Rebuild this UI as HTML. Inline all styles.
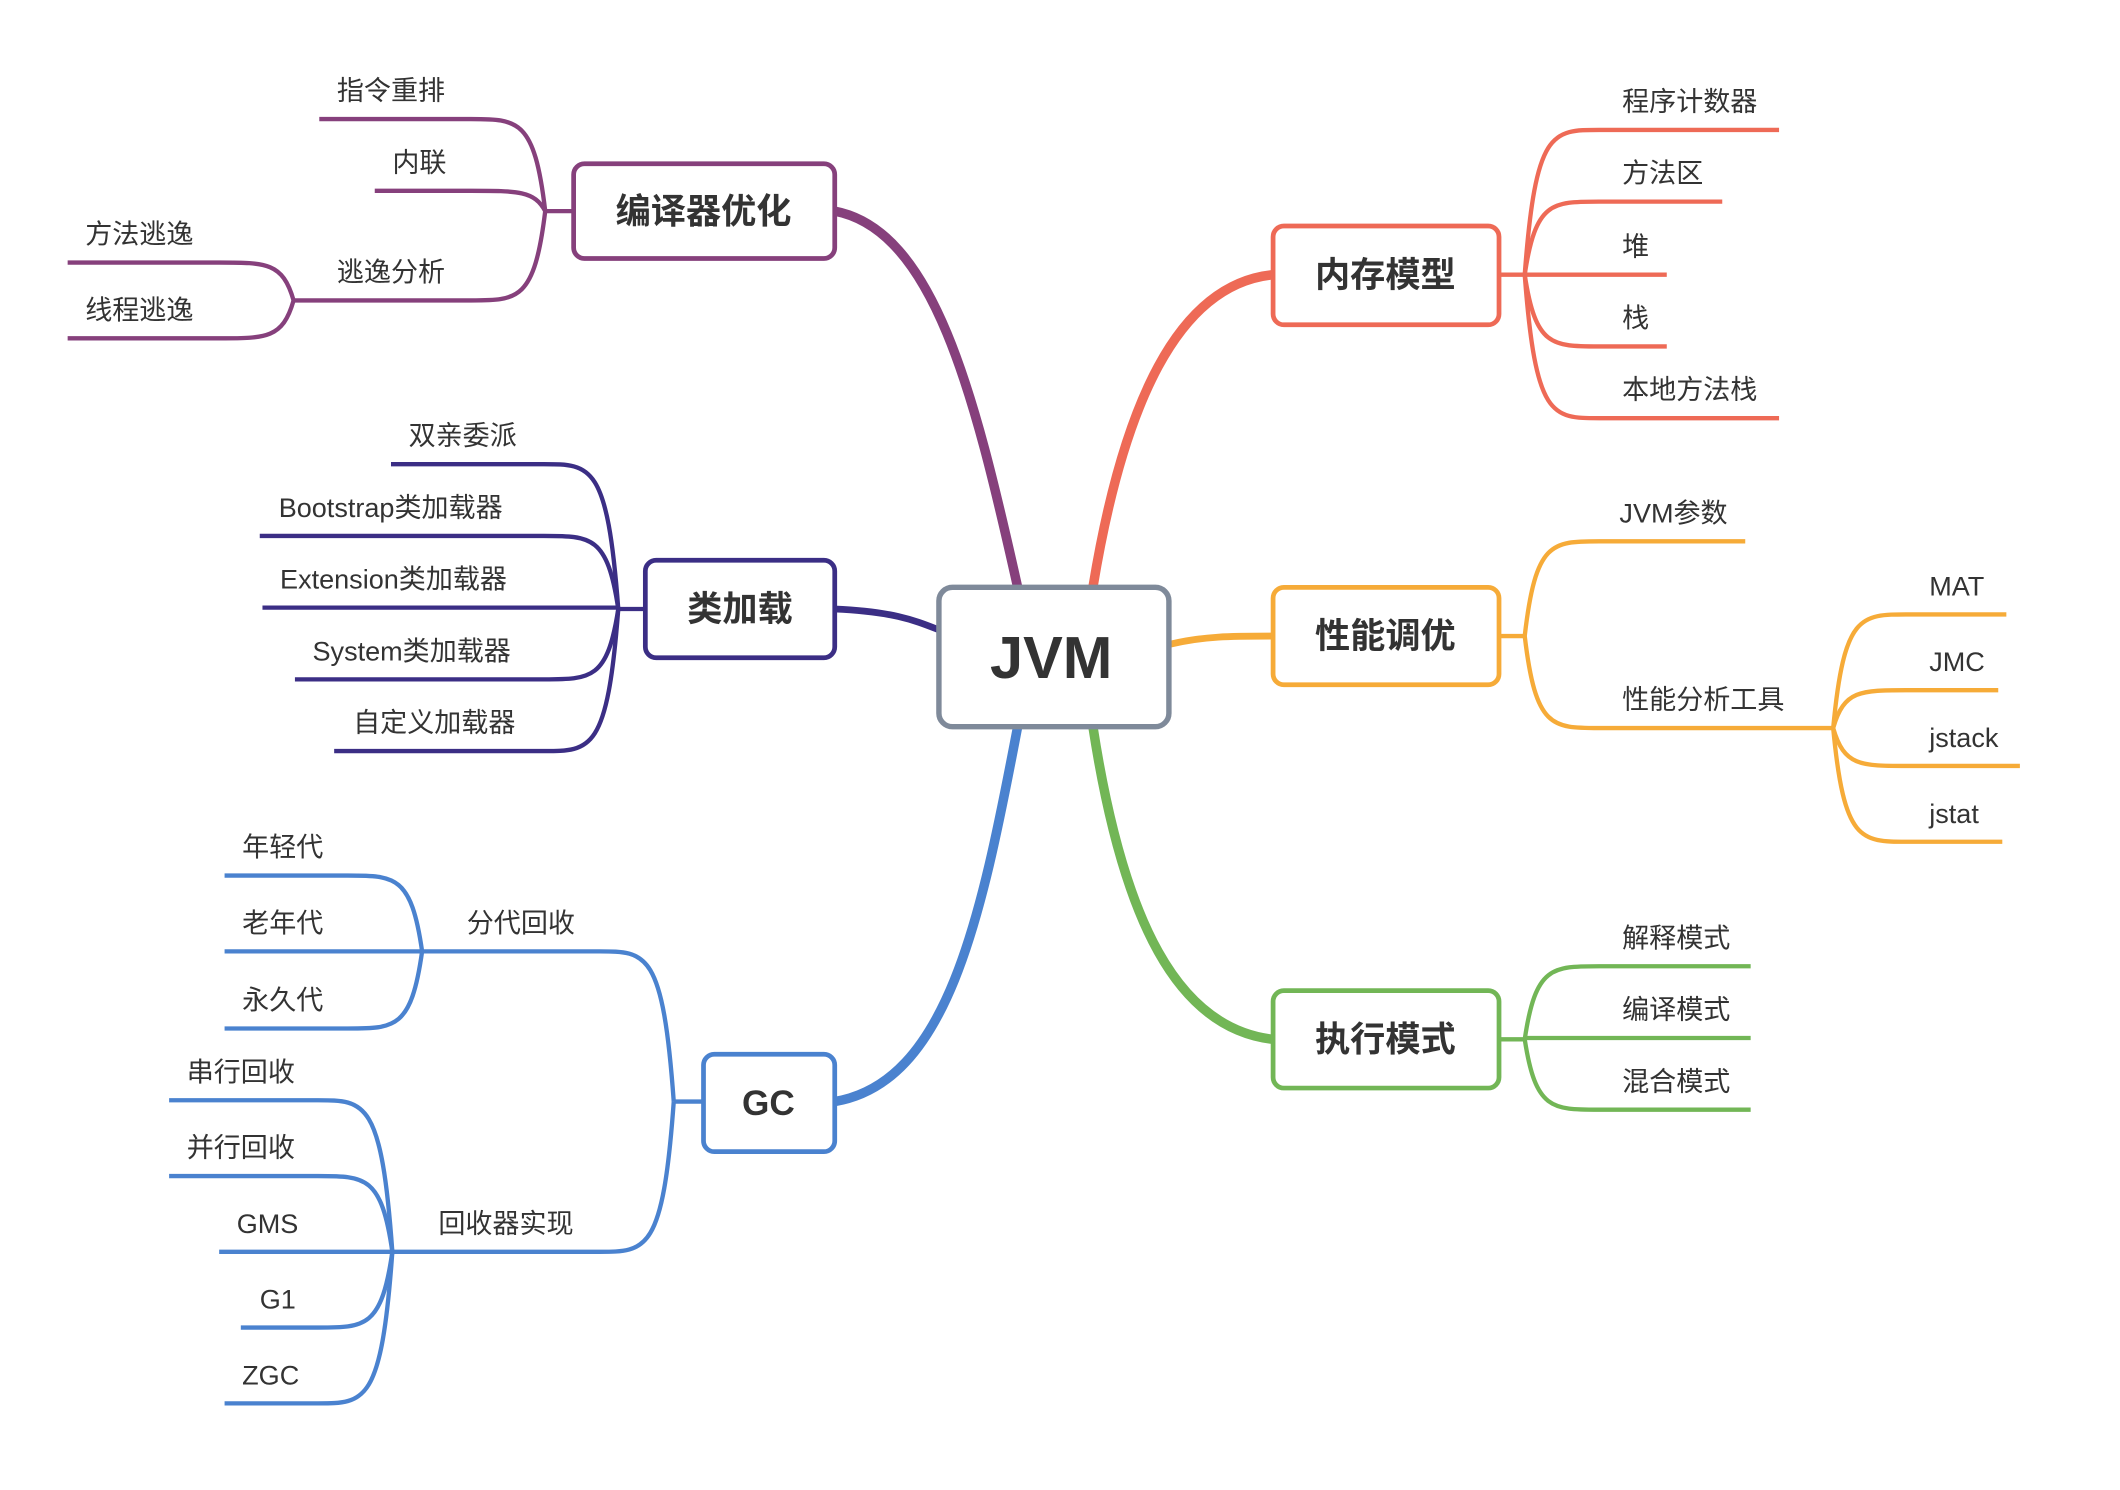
<!DOCTYPE html>
<html><head><meta charset="utf-8"><style>
html,body{margin:0;padding:0;background:#fff}
svg{display:block}
text{font-family:"Liberation Sans","Noto Sans CJK SC",sans-serif;fill:#333}
.l{font-size:20px}
.t{font-size:26px;font-weight:bold;text-anchor:middle}
</style></head><body>
<svg width="2120" height="1490" viewBox="0 0 1567 1101" preserveAspectRatio="none" xmlns="http://www.w3.org/2000/svg">
<g fill="none" stroke-linecap="butt">
<!-- main branches -->
<path d="M617,156 C690,170 720,290 752,433" stroke="#86407c" stroke-width="7"/>
<path d="M941,203 C870,210 830,300 808,433" stroke="#ee6a56" stroke-width="7"/>
<path d="M617,814 C700,800 725,680 752,538" stroke="#4a82cf" stroke-width="7"/>
<path d="M941,768 C870,760 830,680 808,538" stroke="#72b656" stroke-width="7"/>
<path d="M617,450 C660,452 675,458 693,465" stroke="#3b2e85" stroke-width="5"/>
<path d="M865,476 C890,470 910,470 941,470" stroke="#f6ab38" stroke-width="5"/>

<!-- compile -->
<g stroke="#86407c" stroke-width="3.2">
<path d="M403,156 L424,156"/>
<path d="M403,156 C395,88 383,88 348,88 L236,88"/>
<path d="M403,156 C395,141 383,141 348,141 L277,141"/>
<path d="M403,156 C395,222 383,222 348,222 L217,222"/>
<path d="M217,222 C209,194 197,194 162,194 L50,194"/>
<path d="M217,222 C209,250 197,250 162,250 L50,250"/>
</g>
<!-- class -->
<g stroke="#3b2e85" stroke-width="3.2">
<path d="M457,450 L477,450"/>
<path d="M457,450 C449,343 437,343 402,343 L289,343"/>
<path d="M457,450 C449,396 437,396 402,396 L192,396"/>
<path d="M457,449 L194,449"/>
<path d="M457,450 C449,502 437,502 402,502 L218,502"/>
<path d="M457,450 C449,555 437,555 402,555 L247,555"/>
</g>
<!-- GC -->
<g stroke="#4a82cf" stroke-width="3.2">
<path d="M498,814 L520,814"/>
<path d="M498,814 C490,703 478,703 443,703 L312,703"/>
<path d="M498,814 C490,925 478,925 443,925 L290,925"/>
<path d="M312,703 C304,647 292,647 257,647 L166,647"/>
<path d="M312,703 L166,703"/>
<path d="M312,703 C304,760 292,760 257,760 L166,760"/>
<path d="M290,925 C282,813 270,813 235,813 L125,813"/>
<path d="M290,925 C282,869 270,869 235,869 L125,869"/>
<path d="M290,925 L162,925"/>
<path d="M290,925 C282,981 270,981 235,981 L178,981"/>
<path d="M290,925 C282,1037 270,1037 235,1037 L166,1037"/>
</g>
<!-- memory -->
<g stroke="#ee6a56" stroke-width="3.2">
<path d="M1108,203 L1127,203"/>
<path d="M1127,203 C1135,96 1147,96 1182,96 L1315,96"/>
<path d="M1127,203 C1135,149 1147,149 1182,149 L1273,149"/>
<path d="M1127,203 L1232,203"/>
<path d="M1127,203 C1135,256 1147,256 1182,256 L1232,256"/>
<path d="M1127,203 C1135,309 1147,309 1182,309 L1315,309"/>
</g>
<!-- perf -->
<g stroke="#f6ab38" stroke-width="3.2">
<path d="M1108,470 L1127,470"/>
<path d="M1127,470 C1135,400 1147,400 1182,400 L1290,400"/>
<path d="M1127,470 C1135,538 1147,538 1182,538 L1355,538"/>
<path d="M1355,538 C1363,454 1375,454 1410,454 L1483,454"/>
<path d="M1355,538 C1363,510 1375,510 1410,510 L1477,510"/>
<path d="M1355,538 C1363,566 1375,566 1410,566 L1493,566"/>
<path d="M1355,538 C1363,622 1375,622 1410,622 L1480,622"/>
</g>
<!-- exec -->
<g stroke="#72b656" stroke-width="3.2">
<path d="M1108,768 L1127,768"/>
<path d="M1127,768 C1135,714 1147,714 1182,714 L1294,714"/>
<path d="M1127,767 L1294,767"/>
<path d="M1127,768 C1135,820 1147,820 1182,820 L1294,820"/>
</g>
</g>

<!-- boxes -->
<g fill="#fff" stroke-width="3.5">
<rect x="694" y="434" width="170" height="103" rx="10" stroke="#7f8a9a" stroke-width="4"/>
<rect x="424" y="121" width="193" height="70" rx="8" stroke="#86407c"/>
<rect x="477" y="414" width="140" height="72" rx="8" stroke="#3b2e85"/>
<rect x="520" y="779" width="97" height="72" rx="8" stroke="#4a82cf"/>
<rect x="941" y="167" width="167" height="73" rx="8" stroke="#ee6a56"/>
<rect x="941" y="434" width="167" height="72" rx="8" stroke="#f6ab38"/>
<rect x="941" y="732" width="167" height="72" rx="8" stroke="#72b656"/>
</g>
<text x="777" y="501" class="t" style="font-size:44px">JVM</text>
<text x="520" y="165" class="t">编译器优化</text>
<text x="547" y="459" class="t">类加载</text>
<text x="568" y="824" class="t">GC</text>
<text x="1024" y="212" class="t">内存模型</text>
<text x="1024" y="479" class="t">性能调优</text>
<text x="1024" y="777" class="t">执行模式</text>

<g class="l">
<text class="l" x="249" y="74">指令重排</text>
<text class="l" x="290" y="127">内联</text>
<text class="l" x="249" y="208">逃逸分析</text>
<text class="l" x="63" y="180">方法逃逸</text>
<text class="l" x="63" y="236">线程逃逸</text>

<text class="l" x="302" y="329">双亲委派</text>
<text class="l" x="206" y="382">Bootstrap类加载器</text>
<text class="l" x="207" y="435">Extension类加载器</text>
<text class="l" x="231" y="488">System类加载器</text>
<text class="l" x="261" y="541">自定义加载器</text>

<text class="l" x="345" y="689">分代回收</text>
<text class="l" x="324" y="911">回收器实现</text>
<text class="l" x="179" y="633">年轻代</text>
<text class="l" x="179" y="689">老年代</text>
<text class="l" x="179" y="746">永久代</text>
<text class="l" x="138" y="799">串行回收</text>
<text class="l" x="138" y="855">并行回收</text>
<text class="l" x="175" y="911">GMS</text>
<text class="l" x="192" y="967">G1</text>
<text class="l" x="179" y="1023">ZGC</text>

<text class="l" x="1199" y="82">程序计数器</text>
<text class="l" x="1199" y="135">方法区</text>
<text class="l" x="1199" y="189">堆</text>
<text class="l" x="1199" y="242">栈</text>
<text class="l" x="1199" y="295">本地方法栈</text>

<text class="l" x="1197" y="386">JVM参数</text>
<text class="l" x="1199" y="524">性能分析工具</text>
<text class="l" x="1426" y="440">MAT</text>
<text class="l" x="1426" y="496">JMC</text>
<text class="l" x="1426" y="552">jstack</text>
<text class="l" x="1426" y="608">jstat</text>

<text class="l" x="1199" y="700">解释模式</text>
<text class="l" x="1199" y="753">编译模式</text>
<text class="l" x="1199" y="806">混合模式</text>
</g>
</svg>
</body></html>
